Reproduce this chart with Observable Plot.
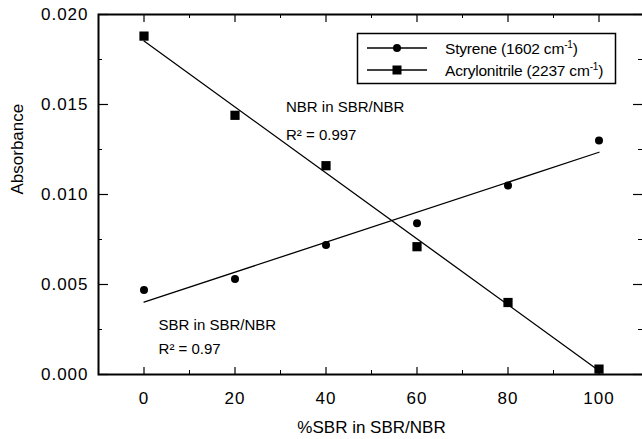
<!DOCTYPE html>
<html><head><meta charset="utf-8">
<script src="https://cdn.jsdelivr.net/npm/d3@7"></script>
<script src="https://cdn.jsdelivr.net/npm/@observablehq/plot@0.6"></script>
<style>
html,body{margin:0;padding:0;background:#fff;overflow:hidden;width:642px;height:439px}
svg text{font-family:"Liberation Sans",Arial,Helvetica,sans-serif}
g[aria-label="x-axis tick label"] text, g[aria-label="y-axis tick label"] text{letter-spacing:1px}
g[aria-label="axis title"] text{letter-spacing:1.6px}
g[aria-label="annotation"] text{letter-spacing:-0.3px}
.legend text{letter-spacing:-0.2px}
</style></head><body><div id="chart"></div>
<script>
// --- data ---
const composition = [0, 20, 40, 60, 80, 100];              // %SBR in SBR/NBR
const styrene = [0.0047, 0.0053, 0.0072, 0.0084, 0.0105, 0.0130];        // 1602 cm-1
const acrylonitrile = [0.0188, 0.0144, 0.0116, 0.0071, 0.0040, 0.0003];  // 2237 cm-1
const xTicks = [0, 20, 40, 60, 80, 100];
const xMinorTicks = [10, 30, 50, 70, 90];
const yTicks = [0, 0.005, 0.010, 0.015, 0.020];
const yMinorTicks = [0.0025, 0.0075, 0.0125, 0.0175];
const seriesNames = ["Styrene", "Acrylonitrile"];
const wavenumbers = ["1602", "2237"];
const fitLabels = ["NBR in SBR/NBR", "R² = 0.997", "SBR in SBR/NBR", "R² = 0.97"];
const xTitle = "%SBR in SBR/NBR";
const yTitle = "Absorbance";

const sty = composition.map((c, i) => ({pct: c, abs: styrene[i]}));
const acr = composition.map((c, i) => ({pct: c, abs: acrylonitrile[i]}));

const W = 644, H = 439, ML = 98, MR = 0, MT = 14, MB = 65;
const xDom = [-10, 110], yDom = [0, 0.02];
const plotW = W - ML - MR, plotH = H - MT - MB;
// convert a pixel tick length into data units for inward ticks
const py = p => p * (yDom[1] - yDom[0]) / plotH;
const px = p => p * (xDom[1] - xDom[0]) / plotW;

const chart = Plot.plot({
  width: W, height: H,
  marginLeft: ML, marginRight: MR, marginTop: MT, marginBottom: MB,
  style: {maxWidth: "none", background: "white", color: "black", fontFamily: '"Liberation Sans", Arial, sans-serif'},
  x: {domain: xDom},
  y: {domain: yDom},
  marks: [
    // inward ticks on all four sides
    Plot.ruleX(xTicks, {x: d => d, y1: yDom[0], y2: yDom[0] + py(7), stroke: "black", strokeWidth: 1.2}),
    Plot.ruleX(xMinorTicks, {x: d => d, y1: yDom[0], y2: yDom[0] + py(4), stroke: "black", strokeWidth: 1}),
    Plot.ruleX(xTicks, {x: d => d, y1: yDom[1], y2: yDom[1] - py(8), stroke: "black", strokeWidth: 1.2}),
    Plot.ruleX(xMinorTicks, {x: d => d, y1: yDom[1], y2: yDom[1] - py(4), stroke: "black", strokeWidth: 1}),
    Plot.ruleY(yTicks, {y: d => d, x1: xDom[0], x2: xDom[0] + px(10), stroke: "black", strokeWidth: 1.2}),
    Plot.ruleY(yMinorTicks, {y: d => d, x1: xDom[0], x2: xDom[0] + px(4), stroke: "black", strokeWidth: 1}),
    Plot.ruleY(yTicks, {y: d => d, x1: xDom[1], x2: xDom[1] - px(11), stroke: "black", strokeWidth: 1.2}),
    Plot.ruleY(yMinorTicks, {y: d => d, x1: xDom[1], x2: xDom[1] - px(6), stroke: "black", strokeWidth: 1}),
    Plot.axisX({ticks: xTicks, tickSize: 0, tickPadding: 17, fontSize: 17, label: null}),
    Plot.axisY({ticks: yTicks, tickSize: 0, tickPadding: 10, fontSize: 17, label: null, tickFormat: d3.format(".3f")}),
    Plot.text([xTitle], {frameAnchor: "bottom", dy: 58, fontSize: 17, ariaLabel: "axis title"}),
    Plot.text([yTitle], {frameAnchor: "left", dx: -81, rotate: -90, fontSize: 17, ariaLabel: "axis title"}),
    // regression lines
    Plot.linearRegressionY(acr, {x: "pct", y: "abs", ci: 0, stroke: "black", strokeWidth: 1.3}),
    Plot.linearRegressionY(sty, {x: "pct", y: "abs", ci: 0, stroke: "black", strokeWidth: 1.3}),
    // points
    Plot.dot(sty, {x: "pct", y: "abs", r: 4, fill: "black", stroke: null}),
    Plot.dot(acr, {x: "pct", y: "abs", r: 5.2, symbol: "square", fill: "black", stroke: null}),
    // annotations
    Plot.text([fitLabels[0]], {x: 31.2, y: 0.01483, textAnchor: "start", fontSize: 15, ariaLabel: "annotation"}),
    Plot.text([fitLabels[1]], {x: 31.2, y: 0.01328, textAnchor: "start", fontSize: 15, ariaLabel: "annotation"}),
    Plot.text([fitLabels[2]], {x: 3.2, y: 0.00272, textAnchor: "start", fontSize: 15, ariaLabel: "annotation"}),
    Plot.text([fitLabels[3]], {x: 3.2, y: 0.00139, textAnchor: "start", fontSize: 15, ariaLabel: "annotation"}),
    Plot.frame({stroke: "black", strokeWidth: 2})
  ]
});
document.getElementById("chart").appendChild(chart);

// legend box inside the plot
const svg = d3.select(chart);
const lg = svg.append("g").attr("class", "legend").attr("text-anchor", "start");
const bx = 357, by = 33, bw = 258, bh = 50;
lg.append("rect").attr("x", bx + 0.5).attr("y", by + 0.5).attr("width", bw).attr("height", bh)
  .attr("fill", "white").attr("stroke", "black").attr("stroke-width", 1.5);
seriesNames.forEach((name, i) => {
  const cy = 48 + i * 22;
  lg.append("line").attr("x1", 367).attr("x2", 427).attr("y1", cy).attr("y2", cy)
    .attr("stroke", "black").attr("stroke-width", 1.3);
  if (i === 0) {
    lg.append("circle").attr("cx", 397).attr("cy", cy).attr("r", 4).attr("fill", "black");
  } else {
    lg.append("rect").attr("x", 397 - 4.5).attr("y", cy - 4.5).attr("width", 9).attr("height", 9).attr("fill", "black");
  }
  const t = lg.append("text").attr("x", 445).attr("y", cy + 5.5).attr("font-size", 15.5)
    .attr("fill", "black").attr("text-anchor", "start");
  t.append("tspan").text(`${name} (${wavenumbers[i]} cm`);
  t.append("tspan").attr("font-size", 10).attr("dy", -6).text("-1");
  t.append("tspan").attr("dy", 6).text(")");
});
</script></body></html>
